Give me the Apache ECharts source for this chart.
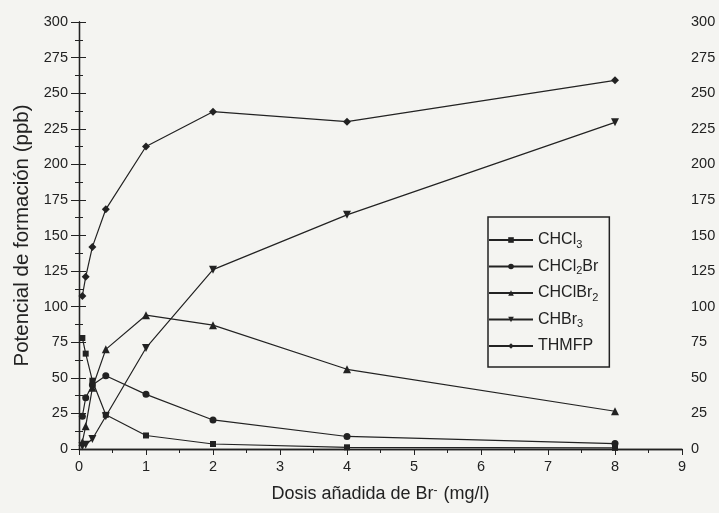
<!DOCTYPE html>
<html><head><meta charset="utf-8">
<script src="https://cdn.jsdelivr.net/npm/echarts@6/dist/echarts.min.js"></script>
<style>html,body{margin:0;padding:0;background:#f4f4f1}#c{width:719px;height:513px}</style>
</head><body><div id="c"></div>
<script>
const doses   = [0.05, 0.1, 0.2, 0.4, 1, 2, 4, 8];
const chcl3   = [78, 67, 48, 24, 9.5, 3.5, 1.2, 0.8];
const chcl2br = [23, 36, 45, 51.5, 38.4, 20.4, 8.8, 3.8];
const chclbr2 = [5, 16, 43, 70, 94, 87, 56, 26.5];
const chbr3   = [2, 3, 7, 23, 71, 126, 164.5, 229.5];
const thmfp   = [107.5, 121, 142, 168.4, 212.5, 237, 230, 259];
const seriesNames = ['CHCl3', 'CHCl2Br', 'CHClBr2', 'CHBr3', 'THMFP'];
const legendLabels = {
  CHCl3: 'CHCl{s|3}', CHCl2Br: 'CHCl{s|2}Br', CHClBr2: 'CHClBr{s|2}', CHBr3: 'CHBr{s|3}', THMFP: 'THMFP'
};
const yLabels = [0, 25, 50, 75, 100, 125, 150, 175, 200, 225, 250, 275, 300];
const xLabels = [0, 1, 2, 3, 4, 5, 6, 7, 8, 9];

const font = 'Liberation Sans, Arial, sans-serif';
const ink = '#222';
const chart = echarts.init(document.getElementById('c'));
const pair = arr => doses.map((d, i) => [d, arr[i]]);
const mk = (name, data, symbol, size, rot) => ({
  name, type: 'line', data: pair(data), symbol, symbolSize: size, symbolRotate: rot || 0,
  lineStyle: { color: ink, width: 1.2 }, itemStyle: { color: ink },
  xAxisIndex: 0, yAxisIndex: 0, animation: false
});
const axisCommon = {
  axisLine: { show: true, lineStyle: { color: ink, width: 1.3 } },
  splitLine: { show: false }
};
const tickFont = 14.5;
chart.setOption({
  backgroundColor: '#f4f4f1',
  animation: false,
  grid: { left: 79, right: 37, top: 22, bottom: 64 },
  legend: {
    orient: 'vertical', left: 488, top: 217,
    data: seriesNames,
    itemWidth: 44, itemHeight: 7, itemGap: 6.5,
    padding: [13, 11, 11, 0],
    borderColor: ink, borderWidth: 1.5,
    textStyle: {
      color: ink, fontFamily: font, fontSize: 16, lineHeight: 20,
      rich: { s: { fontSize: 11, lineHeight: 11, padding: [9, 0, 0, 0], verticalAlign: 'bottom', color: ink, fontFamily: font } }
    },
    formatter: n => legendLabels[n]
  },
  xAxis: [
    Object.assign({}, axisCommon, {
      type: 'value', min: 0, max: 9, interval: 1, position: 'bottom',
      axisTick: { show: true, length: 6, lineStyle: { color: ink } },
      minorTick: { show: true, splitNumber: 2, length: 3, lineStyle: { color: ink } },
      axisLabel: { color: ink, fontFamily: font, fontSize: tickFont, margin: 10,
        formatter: v => xLabels.includes(v) ? String(v) : '' },
      name: 'Dosis añadida de Br{sup|-} (mg/l)', nameLocation: 'middle', nameGap: 36,
      nameTextStyle: { color: ink, fontFamily: font, fontSize: 18,
        rich: { sup: { fontSize: 12, lineHeight: 12, padding: [0, 1, 9, 0], verticalAlign: 'top', color: ink, fontFamily: font } } }
    }),
    Object.assign({}, axisCommon, {
      type: 'value', min: 0, max: 9, interval: 1, position: 'top',
      axisTick: { show: true, inside: true, length: 6, lineStyle: { color: ink } },
      minorTick: { show: true, splitNumber: 2, length: 4, lineStyle: { color: ink } },
      axisLabel: { show: false }
    })
  ],
  yAxis: [
    Object.assign({}, axisCommon, {
      type: 'value', min: 0, max: 300, interval: 25, position: 'left',
      axisTick: { show: true, length: 8, lineStyle: { color: ink } },
      minorTick: { show: true, splitNumber: 2, length: 4, lineStyle: { color: ink } },
      axisLabel: { color: ink, fontFamily: font, fontSize: tickFont, margin: 11,
        formatter: v => yLabels.includes(v) ? String(v) : '' },
      name: 'Potencial de formación (ppb)', nameLocation: 'middle', nameGap: 45,
      nameTextStyle: { color: ink, fontFamily: font, fontSize: 20.5 }
    }),
    Object.assign({}, axisCommon, {
      type: 'value', min: 0, max: 300, interval: 25, position: 'right',
      axisTick: { show: true, length: 7, lineStyle: { color: ink } },
      minorTick: { show: true, splitNumber: 2, length: 4, lineStyle: { color: ink } },
      axisLabel: { color: ink, fontFamily: font, fontSize: tickFont, margin: 9,
        formatter: v => yLabels.includes(v) ? String(v) : '' }
    })
  ],
  series: [
    mk('CHCl3', chcl3, 'rect', 6),
    mk('CHCl2Br', chcl2br, 'circle', 7),
    mk('CHClBr2', chclbr2, 'triangle', 8),
    mk('CHBr3', chbr3, 'triangle', 8, 180),
    mk('THMFP', thmfp, 'diamond', 8)
  ]
});
</script></body></html>
